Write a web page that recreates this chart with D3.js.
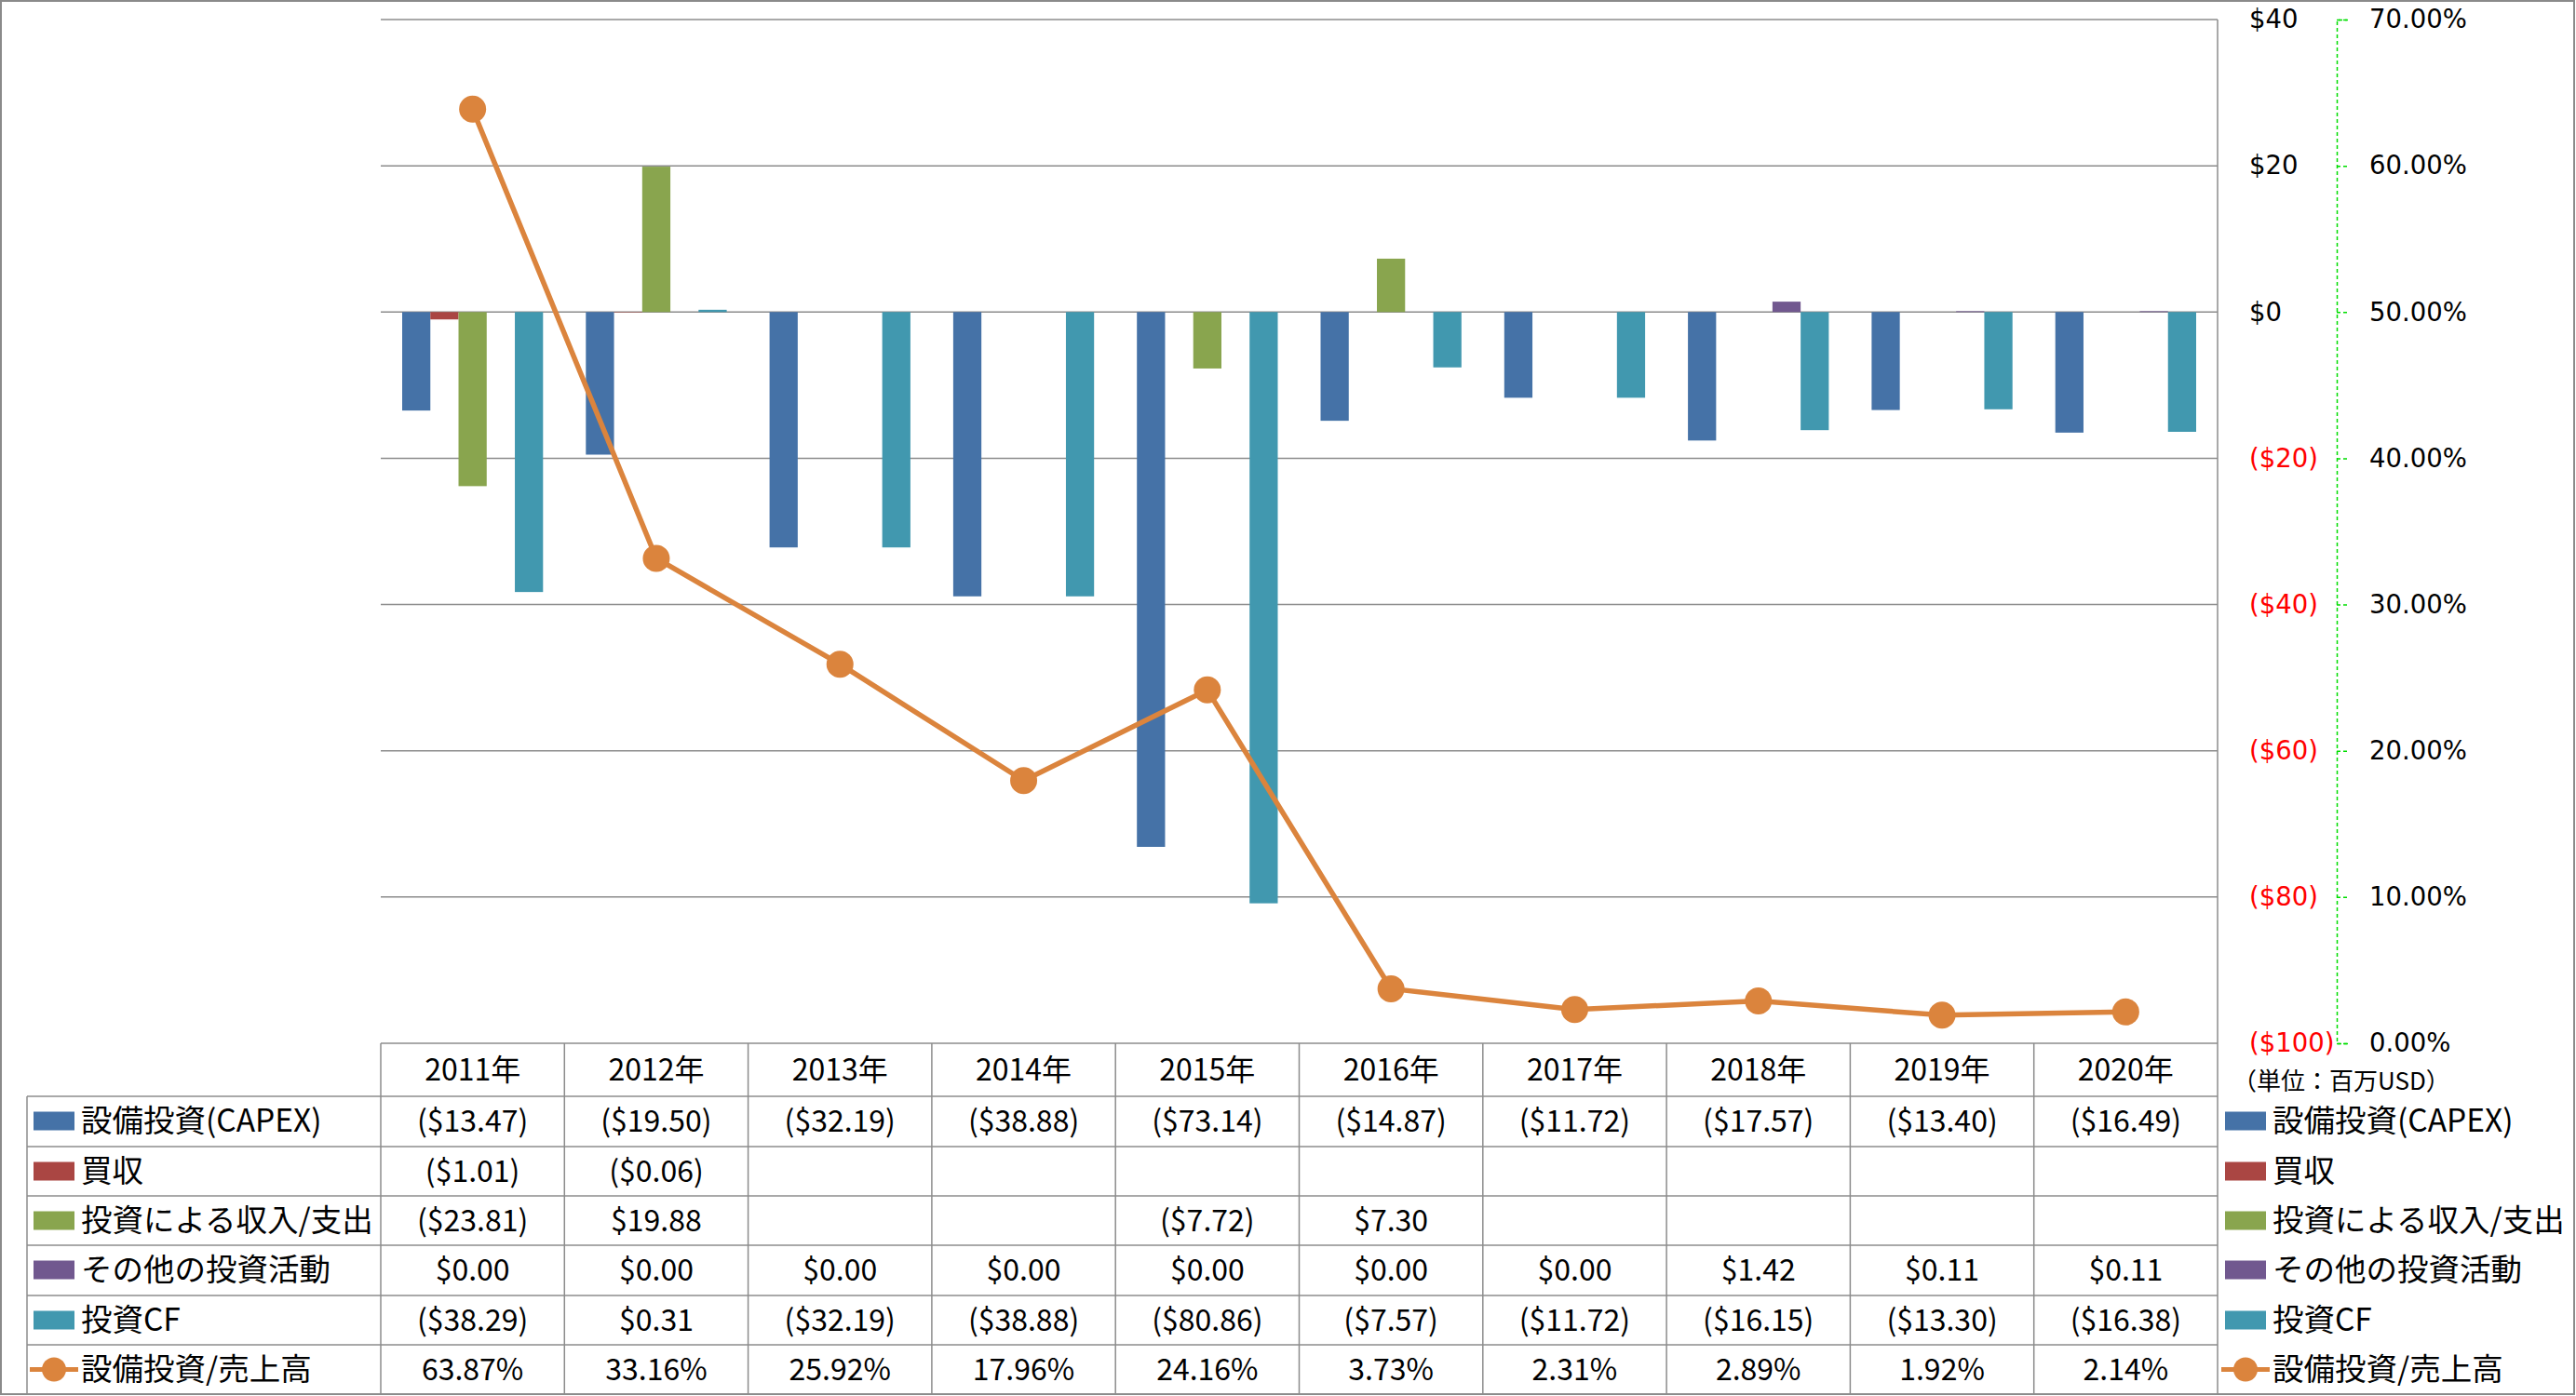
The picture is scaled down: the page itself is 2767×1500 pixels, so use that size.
<!DOCTYPE html>
<html><head><meta charset="utf-8">
<script src="https://cdn.jsdelivr.net/npm/d3@7"></script>
<style>
html,body{margin:0;padding:0;background:#fff;}
svg{display:block;}
</style></head><body>
<svg id="chart" width="2767" height="1500"></svg>
<script>
const categories = ["2011年","2012年","2013年","2014年","2015年","2016年","2017年","2018年","2019年","2020年"];
const seriesNames = ["設備投資(CAPEX)","買収","投資による収入/支出","その他の投資活動","投資CF"];
const capex = [-13.47,-19.50,-32.19,-38.88,-73.14,-14.87,-11.72,-17.57,-13.40,-16.49];
const acquisition = [-1.01,-0.06,null,null,null,null,null,null,null,null];
const investIncome = [-23.81,19.88,null,null,-7.72,7.30,null,null,null,null];
const otherInvest = [0,0,0,0,0,0,0,1.42,0.11,0.11];
const investCF = [-38.29,0.31,-32.19,-38.88,-80.86,-7.57,-11.72,-16.15,-13.30,-16.38];
const lineName = "設備投資/売上高";
const capexRatio = [0.6387,0.3316,0.2592,0.1796,0.2416,0.0373,0.0231,0.0289,0.0192,0.0214];
const yTicks = [-100,-80,-60,-40,-20,0,20,40];
const pctTicks = [0,0.1,0.2,0.3,0.4,0.5,0.6,0.7];
const unitLabel = "（単位：百万USD）";
const colors = ["#4572A7","#AA4643","#89A54E","#71588F","#4198AF"];
const lineColor = "#DB843D";

const barSeries = [capex, acquisition, investIncome, otherInvest, investCF];

const svg = d3.select("#chart");
const L = 409, R = 2382, T = 21, B = 1121;
const gridColor = "#8c8c8c";
const font = "'Noto Sans CJK JP', 'Noto Sans', sans-serif";
const axisFont = "'DejaVu Sans', Verdana, sans-serif";

const x0 = d3.scaleBand().domain(categories).range([L, R]).padding(0);
const x1 = d3.scaleBand().domain(d3.range(5)).range([23, x0.bandwidth() - 23]).padding(0);
const y = d3.scaleLinear().domain([-100, 40]).range([B, T]);
const y2 = d3.scaleLinear().domain([0, 0.7]).range([B, T]);

// outer border
svg.append("rect").attr("x",1).attr("y",1).attr("width",2764).attr("height",1497)
  .attr("fill","none").attr("stroke","#8a8a8a").attr("stroke-width",2);

// gridlines
svg.append("g").selectAll("line").data(yTicks).join("line")
  .attr("x1", L).attr("x2", R).attr("y1", d => y(d)).attr("y2", d => y(d))
  .attr("stroke", gridColor).attr("stroke-width", 1.5);

// bars
const gBars = svg.append("g");
barSeries.forEach((vals, si) => {
  gBars.append("g").selectAll("rect")
    .data(vals.map((v, i) => ({v, c: categories[i]})).filter(d => d.v !== null && d.v !== 0))
    .join("rect")
    .attr("x", d => x0(d.c) + x1(si))
    .attr("width", x1.bandwidth())
    .attr("y", d => y(Math.max(0, d.v)))
    .attr("height", d => Math.abs(y(d.v) - y(0)))
    .attr("fill", colors[si]);
});

// line
const lineGen = d3.line().x((d, i) => x0(categories[i]) + x0.bandwidth()/2).y(d => y2(d));
svg.append("path").datum(capexRatio).attr("d", lineGen)
  .attr("fill","none").attr("stroke", lineColor).attr("stroke-width", 5.5).attr("stroke-linejoin","round");
svg.append("g").selectAll("circle").data(capexRatio).join("circle")
  .attr("cx", (d, i) => x0(categories[i]) + x0.bandwidth()/2).attr("cy", d => y2(d))
  .attr("r", 14.5).attr("fill", lineColor);

// right vertical plot border / table right edge
svg.append("line").attr("x1", R).attr("x2", R).attr("y1", T).attr("y2", 1498)
  .attr("stroke", gridColor).attr("stroke-width", 1.5);

// $ axis
const fmtDollar = v => v < 0 ? `($${-v})` : `$${v}`;
const axY = svg.append("g").attr("transform", `translate(2416,0)`)
  .call(d3.axisRight(y).tickValues(yTicks).tickSize(0).tickPadding(0).tickFormat(fmtDollar));
axY.select(".domain").remove();
axY.selectAll("text").attr("font-family", axisFont).attr("font-size", 27.5)
  .attr("fill", d => d < 0 ? "#ff0000" : "#000");

// % axis
const axP = svg.append("g").attr("transform", `translate(2510,0)`)
  .call(d3.axisRight(y2).tickValues(pctTicks).tickSize(12).tickSizeOuter(12).tickPadding(23)
    .tickFormat(d => (d*100).toFixed(2) + "%"));
axP.select(".domain").attr("stroke", "#00dd00").attr("stroke-width", 1.5).attr("stroke-dasharray", "4,3");
axP.selectAll(".tick line").attr("stroke", "#00dd00").attr("stroke-width", 1.5).attr("stroke-dasharray", "4,3");
axP.selectAll("text").attr("font-family", axisFont).attr("font-size", 27.5).attr("fill", "#000");

// unit label
svg.append("text").attr("x", 2398).attr("y", 1159).attr("dominant-baseline","central")
  .attr("font-family", font).attr("font-size", 26).attr("fill","#000").text(unitLabel);

// data table
const rowTops = [1178, 1232, 1285, 1338, 1392, 1445];
const rowH = 53;
const tableBottom = 1498;
const textShift = -3;
const tg = svg.append("g");
tg.selectAll("line.v").data(categories).join("line")
  .attr("x1", d => x0(d)).attr("x2", d => x0(d)).attr("y1", B).attr("y2", tableBottom)
  .attr("stroke", gridColor).attr("stroke-width", 1.5);
tg.append("line").attr("x1", 29).attr("x2", 29).attr("y1", rowTops[0]).attr("y2", tableBottom)
  .attr("stroke", gridColor).attr("stroke-width", 1.5);
tg.selectAll("line.h").data(rowTops.concat([tableBottom])).join("line")
  .attr("x1", 29).attr("x2", R).attr("y1", d => d).attr("y2", d => d)
  .attr("stroke", gridColor).attr("stroke-width", 1.5);

// header text
tg.append("g").selectAll("text").data(categories).join("text")
  .attr("x", d => x0(d) + x0.bandwidth()/2).attr("y", 1150 + textShift)
  .attr("text-anchor","middle").attr("dominant-baseline","central")
  .attr("font-family", font).attr("font-size", 32).attr("fill","#000").text(d => d);

const fmtMoney = v => v === null ? "" : (v < 0 ? `($${(-v).toFixed(2)})` : `$${v.toFixed(2)}`);
const fmtPct = v => (v*100).toFixed(2) + "%";
const rows = barSeries.map((vals, si) => ({name: seriesNames[si], color: colors[si], cells: vals.map(fmtMoney), type:"bar"}));
rows.push({name: lineName, color: lineColor, cells: capexRatio.map(fmtPct), type:"line"});

rows.forEach((row, ri) => {
  const cy = rowTops[ri] + rowH/2;
  tg.append("g").selectAll("text").data(row.cells).join("text")
    .attr("x", (d, i) => x0(categories[i]) + x0.bandwidth()/2).attr("y", cy + textShift)
    .attr("text-anchor","middle").attr("dominant-baseline","central")
    .attr("font-family", font).attr("font-size", 32).attr("fill","#000").text(d => d);
  [{sx: 36, tx: 87}, {sx: 2390, tx: 2441}].forEach(pos => {
    if (row.type === "bar") {
      tg.append("rect").attr("x", pos.sx).attr("y", cy - 10).attr("width", 44).attr("height", 20).attr("fill", row.color);
    } else {
      tg.append("line").attr("x1", pos.sx - 4).attr("x2", pos.sx + 48).attr("y1", cy).attr("y2", cy)
        .attr("stroke", row.color).attr("stroke-width", 5);
      tg.append("circle").attr("cx", pos.sx + 22).attr("cy", cy).attr("r", 13).attr("fill", row.color);
    }
    tg.append("text").attr("x", pos.tx).attr("y", cy + textShift).attr("dominant-baseline","central")
      .attr("font-family", font).attr("font-size", 33.5).attr("fill","#000").text(row.name);
  });
});
</script>
</body></html>
